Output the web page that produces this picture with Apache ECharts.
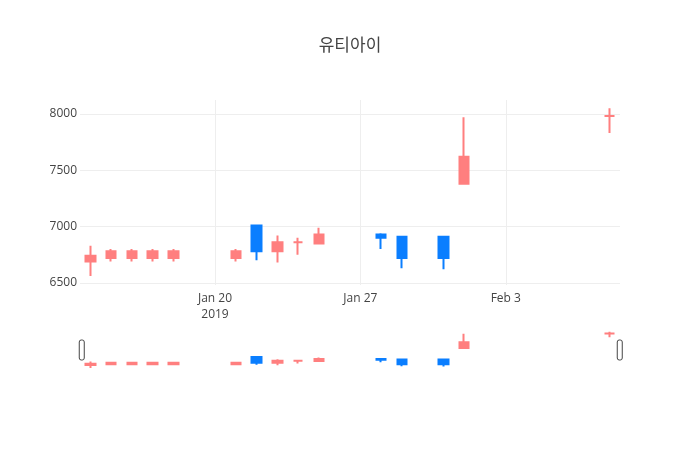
<!DOCTYPE html>
<html>
<head>
<meta charset="utf-8">
<script src="https://cdn.jsdelivr.net/npm/echarts@6/dist/echarts.min.js"></script>
<style>
html,body{margin:0;padding:0;background:#fff;}
#chart{width:700px;height:450px;}
</style>
</head>
<body>
<div id="chart"></div>
<script>
const dates = ['2019-01-14','2019-01-15','2019-01-16','2019-01-17','2019-01-18','2019-01-21','2019-01-22','2019-01-23','2019-01-24','2019-01-25','2019-01-28','2019-01-29','2019-01-31','2019-02-01','2019-02-08'];
const openVals  = [6690, 6720, 6720, 6720, 6720, 6720, 7010, 6780, 6860, 6850, 6930, 6910, 6910, 7380, 7980];
const closeVals = [6740, 6780, 6780, 6780, 6780, 6780, 6780, 6860, 6860, 6930, 6900, 6720, 6720, 7620, 7980];
const lowVals   = [6560, 6690, 6690, 6690, 6690, 6690, 6700, 6680, 6750, 6850, 6800, 6630, 6620, 7380, 7830];
const highVals  = [6830, 6800, 6800, 6800, 6800, 6800, 7010, 6920, 6900, 6990, 6940, 6910, 6910, 7970, 8050];
const tickDates = ['2019-01-20','2019-01-27','2019-02-03'];
const tickLabels = ['Jan 20\n2019','Jan 27','Feb 3'];
const xRange = ['2019-01-13T12:00:00Z','2019-02-08T12:00:00Z'];
const yRange = [6481, 8123];

const ts = d => Date.parse(d.length === 10 ? d + 'T00:00:00Z' : d);
const candleData = dates.map((d, i) => [ts(d), openVals[i], closeVals[i], lowVals[i], highVals[i]]);
const tickTs = tickDates.map(ts);

const UP = '#FF7F7F', DOWN = '#0A7EFF';
const FONT = '"Open Sans", "Noto Sans CJK KR", sans-serif';

const candleStyle = {
  color: UP, color0: DOWN, borderColor: UP, borderColor0: DOWN,
  borderColorDoji: UP, borderWidth: 2
};

const chart = echarts.init(document.getElementById('chart'), null, {renderer: 'canvas'});
chart.setOption({
  animation: false,
  backgroundColor: '#fff',
  title: {
    text: '유티아이', left: 'center', top: 33,
    textStyle: {fontFamily: FONT, fontSize: 17, fontWeight: 'normal', color: '#444'}
  },
  grid: [
    {left: 80, right: 80, top: 100, height: 185},
    {left: 80, right: 80, top: 330, height: 40}
  ],
  xAxis: [
    {
      type: 'value', gridIndex: 0, min: ts(xRange[0]), max: ts(xRange[1]),
      axisLine: {show: false}, axisTick: {show: false, customValues: tickTs},
      splitLine: {show: true, lineStyle: {color: '#eee', width: 1}},
      axisLabel: {
        customValues: tickTs, color: '#444', fontFamily: FONT, fontSize: 12, margin: 6, lineHeight: 16,
        formatter: function (v) { const i = tickTs.indexOf(v); return i >= 0 ? tickLabels[i] : ''; }
      }
    },
    {
      type: 'value', gridIndex: 1, min: ts(xRange[0]), max: ts(xRange[1]),
      show: false, splitLine: {show: false}
    }
  ],
  yAxis: [
    {
      type: 'value', gridIndex: 0, min: yRange[0], max: yRange[1], splitNumber: 3,
      axisLine: {show: false}, axisTick: {show: false},
      splitLine: {show: true, showMinLine: false, showMaxLine: false, lineStyle: {color: '#eee', width: 1}},
      axisLabel: {color: '#444', fontFamily: FONT, fontSize: 12, margin: 3, showMinLabel: false, showMaxLabel: false,
        formatter: function (v) { return String(v); }}
    },
    {
      type: 'value', gridIndex: 1, min: yRange[0], max: yRange[1], show: false, splitLine: {show: false}
    }
  ],
  dataZoom: [{
    type: 'slider', xAxisIndex: [0], filterMode: 'none',
    left: 80, right: 80, top: 340, height: 20,
    start: 0, end: 100,
    showDataShadow: false, showDetail: false, brushSelect: false,
    backgroundColor: 'rgba(0,0,0,0)', borderColor: 'rgba(0,0,0,0)',
    fillerColor: 'rgba(0,0,0,0)',
    dataBackground: {lineStyle: {opacity: 0}, areaStyle: {opacity: 0}},
    selectedDataBackground: {lineStyle: {opacity: 0}, areaStyle: {opacity: 0}},
    moveHandleSize: 0,
    handleIcon: 'path://M2,0 h1 a2,2 0 0 1 2,2 v16 a2,2 0 0 1 -2,2 h-1 a2,2 0 0 1 -2,-2 v-16 a2,2 0 0 1 2,-2 z',
    handleSize: '100%',
    handleStyle: {color: '#fff', borderColor: '#444', borderWidth: 1},
    emphasis: {handleStyle: {color: '#fff', borderColor: '#444', borderWidth: 1}}
  }],
  series: [
    {
      type: 'candlestick', name: '유티아이', xAxisIndex: 0, yAxisIndex: 0,
      barWidth: 10, data: candleData, itemStyle: candleStyle
    },
    {
      type: 'candlestick', name: 'mini', xAxisIndex: 1, yAxisIndex: 1,
      barWidth: 10, data: candleData, itemStyle: candleStyle, silent: true
    }
  ]
});
</script>
</body>
</html>
